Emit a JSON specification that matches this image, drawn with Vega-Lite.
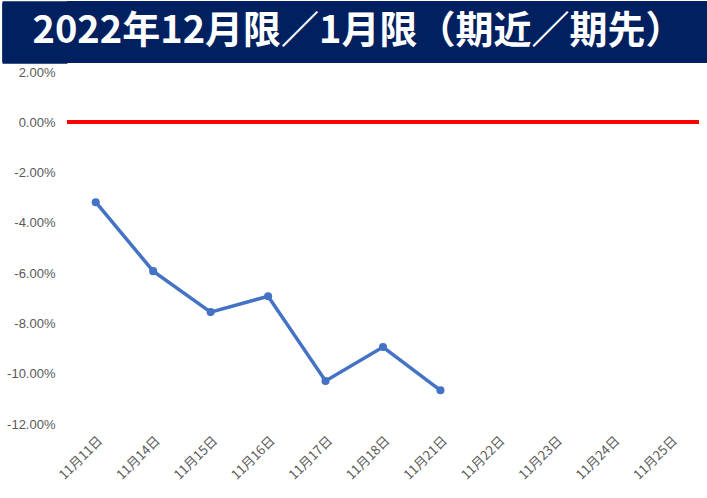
{
  "$schema": "https://vega.github.io/schema/vega-lite/v6.json",
  "padding": 0,
  "spacing": 2,
  "background": "white",
  "config": {"font": "Noto Sans CJK JP", "view": {"stroke": null}},
  "vconcat": [
    {
      "width": 642,
      "height": 62,
      "view": {"fill": "#002060", "stroke": null},
      "data": {"values": [{"t": "2022年12月限／1月限（期近／期先）", "pos": 0.5}]},
      "mark": {"type": "text", "color": "white", "fontSize": 38, "fontWeight": "bold", "baseline": "middle", "align": "center", "dx": -30, "font": "Noto Sans CJK JP"},
      "encoding": {
        "text": {"field": "t"},
        "y": {"field": "pos", "type": "quantitative", "scale": {"domain": [0, 1], "nice": false},
              "axis": {"title": null, "values": [0.03,0.05,0.07,0.09,0.11,0.13,0.15,0.17,0.19,0.21,0.23,0.25,0.27,0.29,0.31,0.33,0.35,0.37,0.39,0.41,0.43,0.45,0.47,0.49,0.51,0.53,0.55,0.57,0.59,0.61,0.63,0.65,0.67,0.69,0.71,0.73,0.75,0.77,0.79,0.81,0.83,0.85,0.87,0.89,0.91,0.93,0.95,0.97], "labels": false, "domain": false, "grid": false, "ticks": true, "tickSize": 65, "tickWidth": 4, "tickRound": false, "tickColor": "#002060", "tickCap": "butt", "minExtent": 65, "maxExtent": 65}}
      }
    },
    {
      "width": 632,
      "height": 352,
      "data": {"values": [
        {"date": "11月11日", "v": -0.0318},
        {"date": "11月14日", "v": -0.0592},
        {"date": "11月15日", "v": -0.0755},
        {"date": "11月16日", "v": -0.0692},
        {"date": "11月17日", "v": -0.1029},
        {"date": "11月18日", "v": -0.0894},
        {"date": "11月21日", "v": -0.1066}
      ]},
      "layer": [
        {
          "mark": {"type": "rule", "color": "#ff0000", "strokeWidth": 3.5},
          "encoding": {"y": {"datum": 0, "type": "quantitative"}}
        },
        {
          "mark": {"type": "line", "color": "#4472C4", "strokeWidth": 3.5, "point": {"filled": true, "size": 65, "color": "#4472C4"}},
          "encoding": {
            "x": {
              "field": "date", "type": "ordinal", "sort": null,
              "scale": {"type": "point", "padding": 0.5, "domain": ["11月11日","11月14日","11月15日","11月16日","11月17日","11月18日","11月21日","11月22日","11月23日","11月24日","11月25日"]},
              "axis": {"title": null, "grid": false, "domain": false, "ticks": false, "labelAngle": -45, "labelFontSize": 13, "labelColor": "#595959", "labelPadding": 10}
            },
            "y": {
              "field": "v", "type": "quantitative",
              "scale": {"domain": [-0.12, 0.02], "nice": false},
              "axis": {"title": null, "values": [-0.12,-0.1,-0.08,-0.06,-0.04,-0.02,0,0.02], "labelExpr": "replace(format(datum.value, '.2%'), '−', '-')", "labelFont": "Liberation Sans", "domain": false, "ticks": false, "labelPadding": 12, "labelFontSize": 13, "labelColor": "#595959", "gridColor": "#d9d9d9", "gridWidth": 1, "minExtent": 65, "maxExtent": 65}
            }
          }
        }
      ]
    }
  ]
}
